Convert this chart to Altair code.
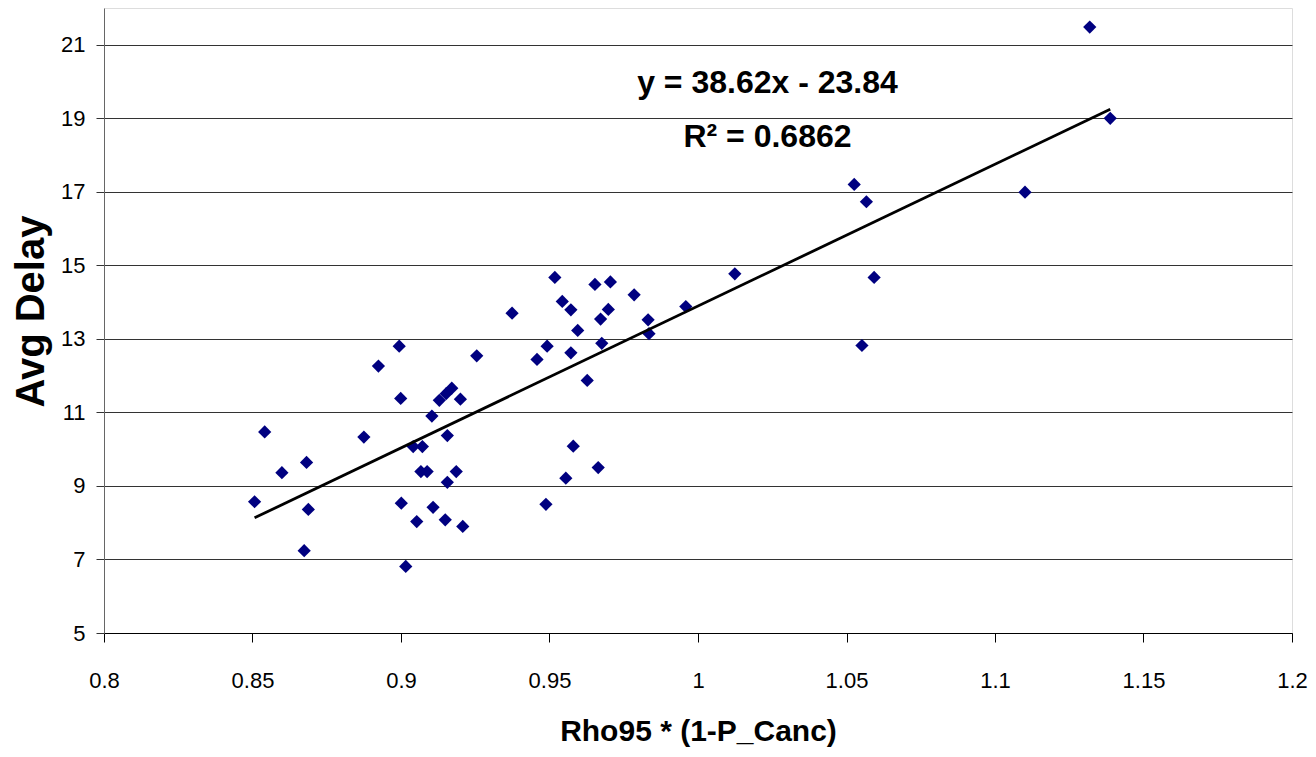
import altair as alt
import pandas as pd

# Data
rho = [0.8507, 0.8541, 0.8599, 0.8682, 0.8674, 0.8688, 0.8875, 0.8924, 0.8994, 0.8999,
       0.9001, 0.9016, 0.9041, 0.9053, 0.9072, 0.9067, 0.9088, 0.9104, 0.9108, 0.9129,
       0.9152, 0.9156, 0.9149, 0.9156, 0.9171, 0.9186, 0.9200, 0.9208, 0.9255, 0.9374,
       0.9458, 0.9492, 0.9488, 0.9518, 0.9543, 0.9555, 0.9572, 0.9572, 0.9580, 0.9595,
       0.9627, 0.9653, 0.9664, 0.9672, 0.9676, 0.9698, 0.9705, 0.9785, 0.9832, 0.9835,
       0.9959, 1.0124, 1.0526, 1.0567, 1.0552, 1.0593, 1.1101, 1.1319, 1.1388]
delay = [8.57, 10.47, 9.36, 9.64, 7.24, 8.36, 10.33, 12.26, 12.80, 11.38,
         8.53, 6.81, 10.07, 8.03, 10.07, 9.39, 9.39, 10.90, 8.42, 11.33,
         11.51, 10.37, 8.08, 9.10, 11.66, 9.39, 11.36, 7.90, 12.54, 13.70,
         12.44, 12.80, 8.50, 14.67, 14.02, 9.21, 13.79, 12.62, 10.08, 13.23,
         11.87, 14.48, 9.50, 13.54, 12.88, 13.80, 14.55, 14.20, 13.52, 13.14,
         13.88, 14.77, 17.20, 16.73, 12.82, 14.67, 16.99, 21.48, 19.00]

x_ticks = [0.8, 0.85, 0.9, 0.95, 1.0, 1.05, 1.1, 1.15, 1.2]
y_ticks = [5, 7, 9, 11, 13, 15, 17, 19, 21]

eq_text = ["y = 38.62x - 23.84", "R\u00b2 = 0.6862"]
eq_x = [1.0234, 1.0234]
eq_y = [19.68, 18.21]

df = pd.DataFrame({"x": rho, "y": delay})
ann = pd.DataFrame({"t": eq_text, "x": eq_x, "y": eq_y})

FONT = "Liberation Sans"

xscale = alt.Scale(domain=[0.8, 1.2], nice=False, zero=False)
yscale = alt.Scale(domain=[5, 22], nice=False, zero=False)

xaxis = alt.Axis(
    title="Rho95 * (1-P_Canc)", values=x_ticks, format=".2~f", grid=False,
    tickSize=9, tickColor="#000", domainColor="#000", labelFont=FONT,
    labelFontSize=22, labelColor="#000", labelPadding=45, labelFlush=False,
    labelBaseline="alphabetic", titleFont=FONT, titleFontSize=30,
    titleFontWeight="bold", titleColor="#000", titleBaseline="alphabetic",
    titleY=107,
)
yaxis = alt.Axis(
    title="Avg Delay", values=y_ticks, format="d", grid=True, gridColor="#333",
    gridWidth=1, tickSize=8, tickColor="#333", domainColor="#666",
    labelFont=FONT, labelFontSize=22, labelColor="#000", labelPadding=11,
    labelFlush=False,
    titleFont=FONT, titleFontSize=40, titleFontWeight="bold", titleColor="#000",
    titleAngle=-90, titleBaseline="alphabetic", titleX=-61, titleY=303,
    titleAlign="center",
)

points = alt.Chart(df).mark_point(
    shape="diamond", filled=True, size=175, color="#000080", opacity=1
).encode(
    x=alt.X("x:Q", scale=xscale, axis=xaxis),
    y=alt.Y("y:Q", scale=yscale, axis=yaxis),
)

trend = alt.Chart(df).transform_regression("x", "y").mark_line(
    color="#000", strokeWidth=2.8
).encode(
    x=alt.X("x:Q", scale=xscale),
    y=alt.Y("y:Q", scale=yscale),
)

labels = alt.Chart(ann).mark_text(
    font=FONT, fontSize=32, fontWeight="bold", color="#000",
    align="center", baseline="alphabetic"
).encode(
    x=alt.X("x:Q", scale=xscale),
    y=alt.Y("y:Q", scale=yscale),
    text="t:N",
)

chart = alt.layer(points, trend, labels).properties(
    width=1188, height=625,
    autosize=alt.AutoSizeParams(type="none"),
    padding={"left": 96, "top": 0, "right": 16, "bottom": 122},
).configure_view(stroke="#999", strokeWidth=1).configure(background="white")

chart.save("out.html", embed_options={"renderer": "svg", "actions": False})
